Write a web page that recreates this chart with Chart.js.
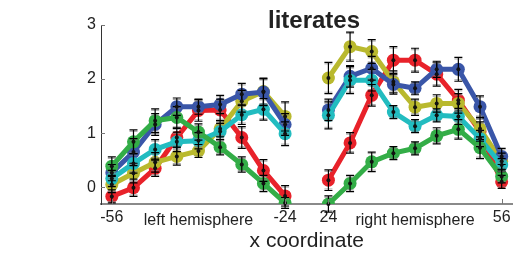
<!DOCTYPE html>
<html><head><meta charset="utf-8">
<script src="https://cdn.jsdelivr.net/npm/chart.js@4"></script>
<style>html,body{margin:0;padding:0;background:#fff;} #c{display:block;}</style>
</head><body>
<canvas id="c" width="519" height="254"></canvas>
<script>
// x coordinates (left and right hemisphere)
const leftX = [-56,-52,-48,-44,-40,-36,-32,-28,-24];
const rightX = [24,28,32,36,40,44,48,52,56];
const labeledX = [-56,-24,24,56];
const yTicks = [0,1,2,3];
const titleText = 'literates';
const xTitle = 'x coordinate';
const hemiLabels = ['left hemisphere','right hemisphere'];
const hemiCenters = [-40, 40];

// series values (18 = 9 left + 9 right)
const red   = [-0.17,-0.01,0.35,0.92,1.42,1.43,0.92,0.31,-0.16, 0.13,0.82,1.70,2.35,2.35,2.09,1.61,1.03,0.10];
const olive = [0.05,0.26,0.46,0.57,0.67,1.08,1.59,1.77,1.31, 2.02,2.60,2.51,1.95,1.48,1.55,1.55,1.08,0.48];
const blue  = [0.27,0.65,1.16,1.49,1.49,1.53,1.72,1.76,1.16, 1.43,2.05,2.20,1.90,1.83,2.18,2.18,1.49,0.57];
const cyan  = [0.16,0.44,0.70,0.84,0.86,1.03,1.34,1.44,0.99, 1.33,1.98,1.98,1.39,1.13,1.33,1.31,0.90,0.41];
const green = [0.39,0.84,1.23,1.29,1.02,0.74,0.42,0.07,-0.29, -0.31,0.07,0.47,0.63,0.72,0.95,1.07,0.73,0.20];

// error bar half-lengths
const redErr   = [0.12,0.16,0.15,0.18,0.20,0.20,0.20,0.20,0.19, 0.19,0.19,0.20,0.25,0.22,0.22,0.20,0.18,0.12];
const oliveErr = [0.15,0.18,0.18,0.16,0.12,0.15,0.20,0.25,0.27, 0.29,0.27,0.22,0.20,0.15,0.16,0.18,0.20,0.15];
const blueErr  = [0.15,0.25,0.20,0.16,0.14,0.17,0.20,0.25,0.20, 0.20,0.20,0.22,0.18,0.12,0.15,0.22,0.20,0.15];
const cyanErr  = [0.15,0.18,0.18,0.18,0.15,0.15,0.18,0.20,0.22, 0.25,0.25,0.20,0.12,0.12,0.12,0.15,0.15,0.12];
const greenErr = [0.17,0.22,0.22,0.20,0.15,0.14,0.14,0.15,0.10, 0.15,0.15,0.18,0.12,0.12,0.15,0.18,0.20,0.12];

const xAll = leftX.concat([null], rightX);
const labels = xAll.map(v => v === null ? '' : String(v));
function withGap(arr){ return arr.slice(0,9).concat([null], arr.slice(9)); }

const series = [
  {name:'red',   data:red,   err:redErr,   color:'#e8222a', order:5},
  {name:'olive', data:olive, err:oliveErr, color:'#b9b92e', order:4},
  {name:'blue',  data:blue,  err:blueErr,  color:'#3a56a8', order:3},
  {name:'cyan',  data:cyan,  err:cyanErr,  color:'#22bcc0', order:2},
  {name:'green', data:green, err:greenErr, color:'#33ad47', order:1}
];

const FONT = "'Liberation Sans', Arial, Helvetica, sans-serif";

const decorPlugin = {
  id:'decor',
  afterDatasetsDraw(chart){
    const ctx = chart.ctx, ys = chart.scales.y;
    ctx.save();
    chart.data.datasets.forEach((ds, di) => {
      const meta = chart.getDatasetMeta(di);
      ds.errors.forEach((e, i) => {
        const v = ds.data[i];
        if (v === null || e === null) return;
        const px = meta.data[i].x;
        const yt = ys.getPixelForValue(v + e), yb = ys.getPixelForValue(v - e);
        ctx.strokeStyle = 'rgba(130,130,130,0.7)'; ctx.lineWidth = 1;
        ctx.beginPath();
        ctx.moveTo(px-4, yt+1.5); ctx.lineTo(px+4, yt+1.5);
        ctx.moveTo(px-4, yb-1.5); ctx.lineTo(px+4, yb-1.5);
        ctx.stroke();
        ctx.strokeStyle = '#000'; ctx.lineWidth = 1.2;
        ctx.beginPath();
        ctx.moveTo(px, yt); ctx.lineTo(px, yb);
        ctx.moveTo(px-4, yt); ctx.lineTo(px+4, yt);
        ctx.moveTo(px-4, yb); ctx.lineTo(px+4, yb);
        ctx.stroke();
      });
    });
    chart.data.datasets.forEach((ds, di) => {
      const meta = chart.getDatasetMeta(di);
      ds.data.forEach((v, i) => {
        if (v === null) return;
        const p = meta.data[i];
        ctx.fillStyle = '#111';
        ctx.beginPath(); ctx.arc(p.x, p.y, 2, 0, Math.PI*2); ctx.fill();
      });
    });
    ctx.restore();
  },
  afterDraw(chart){
    const ctx = chart.ctx, xs = chart.scales.x, ys = chart.scales.y, ca = chart.chartArea;
    ctx.save();
    ctx.strokeStyle = '#777'; ctx.lineWidth = 1;
    yTicks.forEach(t => {
      const py = Math.round(ys.getPixelForValue(t)) + 0.5;
      ctx.beginPath(); ctx.moveTo(ca.left, py); ctx.lineTo(ca.left + 4, py); ctx.stroke();
    });
    labeledX.forEach(t => {
      const px = Math.round(xs.getPixelForValue(xAll.indexOf(t))) + 0.5;
      ctx.beginPath(); ctx.moveTo(px, ca.bottom); ctx.lineTo(px, ca.bottom - 5); ctx.stroke();
    });
    ctx.fillStyle = '#222';
    ctx.textAlign = 'center'; ctx.textBaseline = 'alphabetic';
    ctx.font = 'bold 24px ' + FONT;
    ctx.fillText(titleText, 314, 28);
    ctx.font = '16px ' + FONT;
    hemiLabels.forEach((t, k) => {
      const px = xs.getPixelForValue(xAll.indexOf(hemiCenters[k]));
      ctx.fillText(t, px, 224.5);
    });
    ctx.restore();
  }
};

new Chart(document.getElementById('c'), {
  type:'line',
  data:{
    labels: labels,
    datasets: series.map(s => ({
      label: s.name,
      data: withGap(s.data),
      errors: withGap(s.err),
      borderColor: s.color,
      backgroundColor: s.color,
      borderWidth: 5,
      pointRadius: 6.5,
      pointBorderWidth: 0,
      pointHoverRadius: 6.5,
      pointBackgroundColor: s.color,
      spanGaps: false,
      tension: 0,
      order: s.order
    }))
  },
  options:{
    responsive:false,
    animation:false,
    events:[],
    layout:{padding:{top:25, right:2, left:0, bottom:0}},
    plugins:{legend:{display:false}, title:{display:false}, tooltip:{enabled:false}},
    scales:{
      x:{
        type:'category',
        offset:true,
        grid:{display:false, drawTicks:false},
        border:{display:true, color:'#8a8a8a', width:2},
        ticks:{
          autoSkip:false, maxRotation:0, padding:4,
          color:'#222', font:{family:FONT, size:16},
          callback(val, idx){ const v = xAll[idx]; return labeledX.includes(v) ? String(v) : ''; }
        },
        title:{display:true, text:xTitle, color:'#222', font:{family:FONT, size:21}, padding:{top:0,bottom:0}},
        afterFit(s){ s.height = 50; }
      },
      y:{
        min:-0.31, max:3,
        grid:{display:false, drawTicks:false},
        border:{display:true, color:'#333', width:1},
        afterBuildTicks(s){ s.ticks = yTicks.map(v => ({value:v})); },
        ticks:{padding:5, color:'#222', font:{family:FONT, size:16}},
        afterFit(s){ s.width = 101; }
      }
    }
  },
  plugins:[decorPlugin]
});
</script>
</body></html>
